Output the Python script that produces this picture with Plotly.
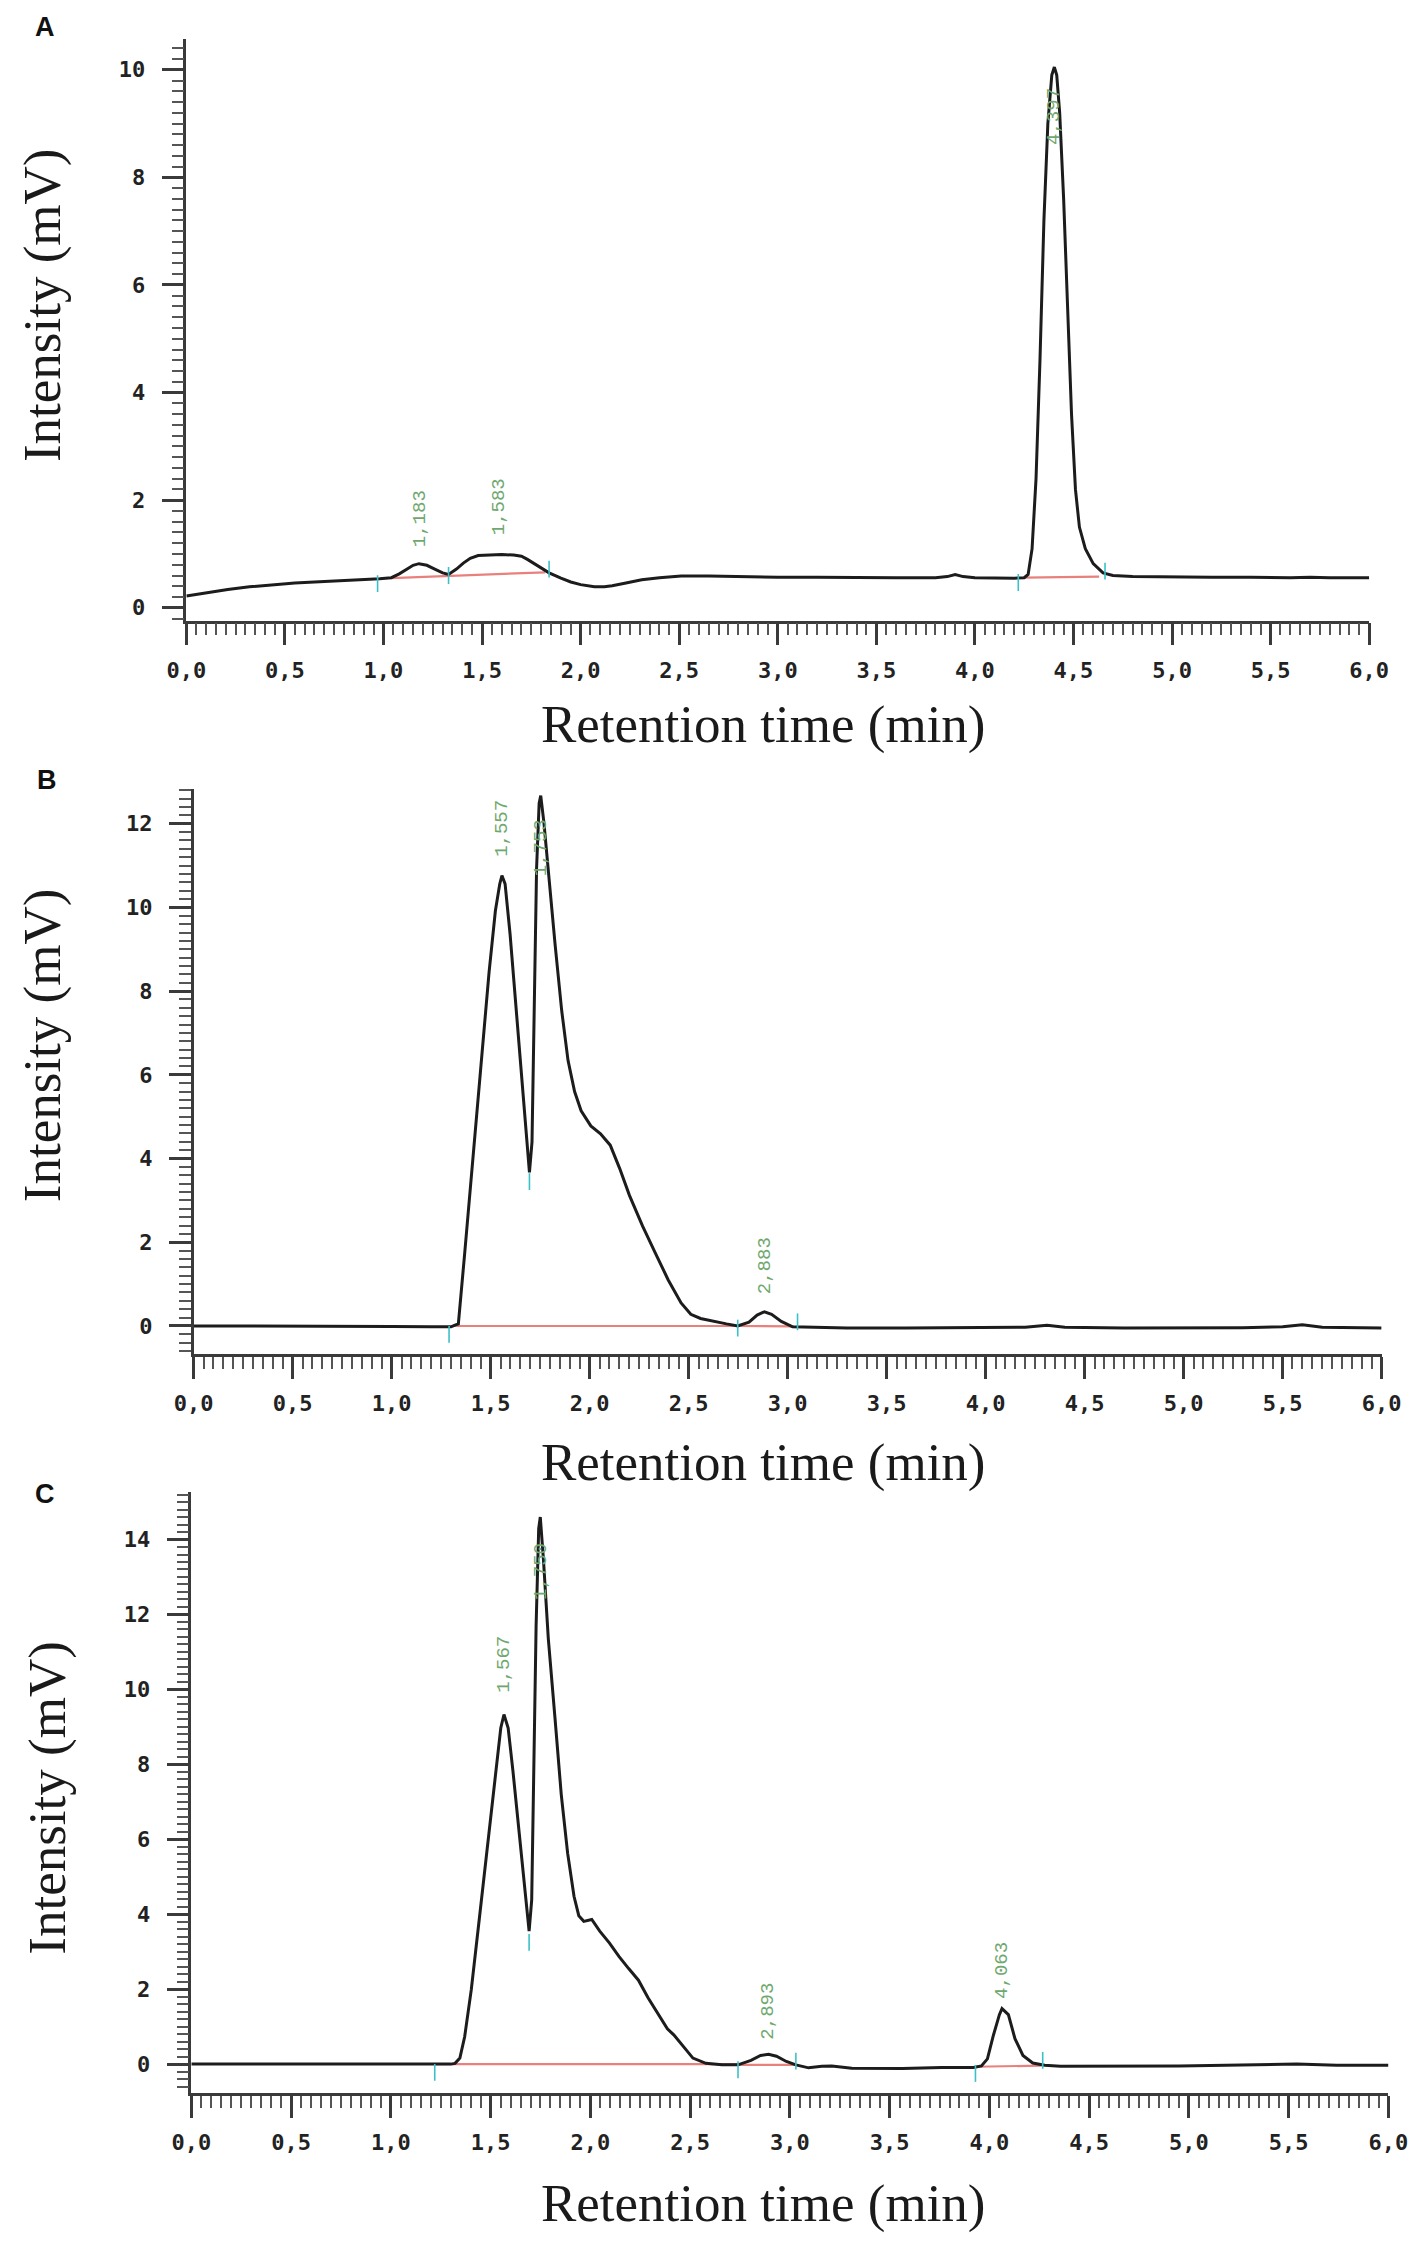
import plotly.graph_objects as go

# ---------------------------------------------------------------------------
# chromatogram traces (retention time in min, intensity in mV)
# ---------------------------------------------------------------------------

time_a = [0.00, 0.10, 0.21, 0.32, 0.43, 0.55, 0.65, 0.76, 0.87, 0.98, 1.04, 1.08,
          1.12, 1.15, 1.18, 1.22, 1.26, 1.30, 1.33, 1.37, 1.405, 1.44, 1.48, 1.54,
          1.60, 1.66, 1.70, 1.73, 1.76, 1.80, 1.84, 1.90, 1.95, 2.00, 2.07, 2.12,
          2.16, 2.23, 2.31, 2.40, 2.51, 2.65, 2.80, 3.00, 3.20, 3.40, 3.60, 3.80,
          3.86, 3.90, 3.94, 4.00, 4.10, 4.20, 4.25, 4.27, 4.29, 4.31, 4.33, 4.35,
          4.37, 4.39, 4.403, 4.415, 4.43, 4.45, 4.47, 4.49, 4.51, 4.53, 4.56, 4.60,
          4.65, 4.70, 4.80, 5.00, 5.20, 5.40, 5.60, 5.70, 5.80, 6.00]
signal_a = [0.22, 0.28, 0.34, 0.39, 0.43, 0.46, 0.48, 0.50, 0.51, 0.54, 0.56, 0.63,
            0.72, 0.79, 0.82, 0.79, 0.72, 0.65, 0.62, 0.72, 0.83, 0.92, 0.97, 0.98,
            0.99, 0.98, 0.96, 0.90, 0.83, 0.73, 0.65, 0.55, 0.48, 0.43, 0.39, 0.39,
            0.41, 0.46, 0.52, 0.56, 0.59, 0.59, 0.58, 0.57, 0.57, 0.56, 0.56, 0.56,
            0.58, 0.62, 0.58, 0.56, 0.55, 0.55, 0.56, 0.62, 1.10, 2.40, 4.60, 7.20,
            9.00, 9.90, 10.05, 9.90, 9.20, 7.60, 5.60, 3.60, 2.20, 1.50, 1.10, 0.82,
            0.65, 0.60, 0.58, 0.57, 0.57, 0.57, 0.56, 0.57, 0.56, 0.56]

time_b = [0.00, 0.50, 1.00, 1.20, 1.30, 1.32, 1.337, 1.369, 1.41, 1.451, 1.492, 1.524,
          1.546, 1.557, 1.573, 1.598, 1.630, 1.663, 1.688, 1.696, 1.709, 1.72, 1.732,
          1.745, 1.753, 1.769, 1.794, 1.826, 1.859, 1.891, 1.924, 1.957, 2.006, 2.055,
          2.104, 2.152, 2.201, 2.267, 2.332, 2.397, 2.462, 2.511, 2.56, 2.625, 2.691,
          2.748, 2.805, 2.846, 2.883, 2.919, 2.968, 3.025, 3.10, 3.30, 3.60, 3.90,
          4.20, 4.31, 4.40, 4.70, 5.00, 5.30, 5.50, 5.60, 5.70, 6.00]
signal_b = [0.00, 0.00, -0.01, -0.02, -0.02, 0.02, 0.05, 1.74, 4.04, 6.24, 8.45, 9.92,
            10.56, 10.76, 10.56, 9.37, 7.53, 5.42, 4.04, 3.67, 4.40, 7.70, 10.93,
            12.49, 12.67, 12.03, 10.65, 9.09, 7.53, 6.34, 5.60, 5.14, 4.78, 4.59,
            4.32, 3.76, 3.12, 2.39, 1.74, 1.10, 0.55, 0.28, 0.18, 0.11, 0.05,
            0.00, 0.09, 0.26, 0.34, 0.28, 0.11, -0.02, -0.03, -0.05, -0.05, -0.04,
            -0.03, 0.02, -0.03, -0.05, -0.05, -0.04, -0.02, 0.03, -0.03, -0.05]

time_c = [0.00, 0.50, 1.00, 1.20, 1.30, 1.322, 1.346, 1.37, 1.403, 1.443, 1.483, 1.523,
          1.551, 1.567, 1.588, 1.612, 1.644, 1.677, 1.693, 1.706, 1.717, 1.728, 1.741,
          1.749, 1.765, 1.789, 1.822, 1.854, 1.886, 1.918, 1.942, 1.967, 2.007, 2.047,
          2.096, 2.144, 2.192, 2.241, 2.289, 2.337, 2.386, 2.418, 2.466, 2.514, 2.579,
          2.659, 2.74, 2.805, 2.853, 2.893, 2.933, 2.982, 3.03, 3.094, 3.16, 3.21,
          3.31, 3.565, 3.76, 3.92, 3.96, 3.99, 4.02, 4.05, 4.063, 4.095, 4.128, 4.168,
          4.217, 4.277, 4.356, 4.553, 4.95, 5.34, 5.54, 5.74, 6.00]
signal_c = [0.00, 0.00, -0.01, -0.01, 0.00, 0.02, 0.16, 0.73, 1.98, 3.86, 5.74, 7.61,
            8.97, 9.33, 8.97, 7.82, 6.15, 4.38, 3.55, 4.38, 8.03, 11.68, 14.29,
            14.60, 13.45, 11.37, 9.28, 7.20, 5.63, 4.48, 3.96, 3.81, 3.86, 3.55,
            3.23, 2.87, 2.55, 2.24, 1.77, 1.36, 0.94, 0.78, 0.47, 0.16, 0.02,
            -0.02, -0.02, 0.10, 0.23, 0.26, 0.21, 0.07, -0.02, -0.10, -0.06, -0.05,
            -0.11, -0.12, -0.09, -0.09, -0.05, 0.14, 0.77, 1.32, 1.48, 1.32, 0.68, 0.23,
            0.03, -0.03, -0.06, -0.06, -0.05, -0.02, 0.00, -0.03, -0.03]

# integration baselines (start/end pairs)
base_a_t = [[1.04, 1.82], [4.25, 4.63]]
base_a_y = [[0.55, 0.66], [0.56, 0.58]]
base_b_t = [[1.30, 2.75], [2.75, 3.03]]
base_b_y = [[0.00, 0.00], [0.00, -0.01]]
base_c_t = [[1.22, 2.74], [2.74, 3.03], [3.93, 4.26]]
base_c_y = [[0.00, 0.00], [-0.02, -0.02], [-0.07, -0.04]]

# peak boundary markers
bound_a_t = [0.97, 1.33, 1.84, 4.22, 4.66]
bound_a_y = [0.45, 0.60, 0.72, 0.47, 0.68]
bound_b_t = [1.29, 1.696, 2.748, 3.05]
bound_b_y = [-0.20, 3.45, -0.05, 0.10]
bound_c_t = [1.22, 1.693, 2.74, 3.03, 3.93, 4.267]
bound_c_y = [-0.22, 3.25, -0.15, 0.08, -0.25, 0.10]

# peak labels
peak_a = ["1,183", "1,583", "4,397"]
peak_a_t = [1.183, 1.583, 4.40]
peak_a_y = [1.09, 1.31, 8.57]
peak_b = ["1,557", "1,753", "2,883"]
peak_b_t = [1.557, 1.753, 2.883]
peak_b_y = [11.17, 10.70, 0.71]
peak_c = ["1,567", "1,750", "2,893", "4,063"]
peak_c_t = [1.567, 1.750, 2.893, 4.063]
peak_c_y = [9.87, 12.33, 0.60, 1.70]

panels = [
    dict(letter="A", t=time_a, s=signal_a, bt=base_a_t, by=base_a_y,
         mt=bound_a_t, my=bound_a_y, lab=peak_a, lt=peak_a_t, ly=peak_a_y,
         yrange=[-0.24, 10.58], yticks=[0, 2, 4, 6, 8, 10],
         xdom=[0.1150, 0.9740], ydom=[0.7272, 0.9864],
         letter_xy=(0.0127, 0.9915), ytitle_xy=(0.0110, 0.8678), xtitle_xy=(0.534, 0.681)),
    dict(letter="B", t=time_b, s=signal_b, bt=base_b_t, by=base_b_y,
         mt=bound_b_t, my=bound_b_y, lab=peak_b, lt=peak_b_t, ly=peak_b_y,
         yrange=[-0.67, 12.83], yticks=[0, 2, 4, 6, 8, 10, 12],
         xdom=[0.1203, 0.9830], ydom=[0.4007, 0.6523],
         letter_xy=(0.0141, 0.6563), ytitle_xy=(0.0110, 0.5383), xtitle_xy=(0.534, 0.3522)),
    dict(letter="C", t=time_c, s=signal_c, bt=base_c_t, by=base_c_y,
         mt=bound_c_t, my=bound_c_y, lab=peak_c, lt=peak_c_t, ly=peak_c_y,
         yrange=[-0.77, 15.27], yticks=[0, 2, 4, 6, 8, 10, 12, 14],
         xdom=[0.1186, 0.9880], ydom=[0.0717, 0.3393],
         letter_xy=(0.0127, 0.3384), ytitle_xy=(0.0135, 0.2030), xtitle_xy=(0.534, 0.0227)),
]

AXIS_COLOR = "#3a3a3a"
TICK_FONT = dict(family="DejaVu Sans Mono", size=22, color="#222222", weight="bold")
TITLE_FONT = dict(family="Liberation Serif", size=53, color="#1a1a1a")

fig = go.Figure()
annotations = []
layout = {}

for i, p in enumerate(panels, start=1):
    xa = "x" if i == 1 else f"x{i}"
    ya = "y" if i == 1 else f"y{i}"

    # red integration baselines
    for bt, by in zip(p["bt"], p["by"]):
        fig.add_trace(go.Scatter(x=bt, y=by, xaxis=xa, yaxis=ya, mode="lines",
                                 line=dict(color="#e8807c", width=2.2),
                                 hoverinfo="skip", showlegend=False))

    # signal
    fig.add_trace(go.Scatter(x=p["t"], y=p["s"], xaxis=xa, yaxis=ya, mode="lines",
                             line=dict(color="#1c1c1c", width=3),
                             showlegend=False))

    # peak start/end marks
    fig.add_trace(go.Scatter(x=p["mt"], y=p["my"], xaxis=xa, yaxis=ya, mode="markers",
                             marker=dict(symbol="line-ns", size=12,
                                         line=dict(color="#3cc0c8", width=1.6)),
                             hoverinfo="skip", showlegend=False))

    # peak retention-time labels
    for txt, lt, ly in zip(p["lab"], p["lt"], p["ly"]):
        annotations.append(dict(x=lt, y=ly, xref=xa, yref=ya, text=txt,
                                textangle=-90, showarrow=False,
                                xanchor="center", yanchor="bottom",
                                font=dict(family="Liberation Mono", size=19,
                                          color="#6fa86f")))

    layout[f"xaxis{'' if i == 1 else i}"] = dict(
        domain=p["xdom"], anchor=ya, range=[0, 6.0],
        tickvals=[0, 0.5, 1, 1.5, 2, 2.5, 3, 3.5, 4, 4.5, 5, 5.5, 6],
        tickformat=".1f", ticks="outside", ticklen=22, tickwidth=2.5,
        tickcolor=AXIS_COLOR, ticklabelstandoff=6,
        minor=dict(dtick=0.05, tick0=0, ticks="outside", ticklen=12,
                   tickwidth=2, tickcolor="#555555"),
        showline=True, linecolor=AXIS_COLOR, linewidth=2.5,
        showgrid=False, zeroline=False, tickfont=TICK_FONT, fixedrange=True,
    )
    layout[f"yaxis{'' if i == 1 else i}"] = dict(
        domain=p["ydom"], anchor=xa, range=p["yrange"],
        tickvals=p["yticks"], ticks="outside", ticklen=22, tickwidth=2.5,
        tickcolor=AXIS_COLOR, ticklabelstandoff=12,
        minor=dict(dtick=0.2, tick0=0, ticks="outside", ticklen=12,
                   tickwidth=2, tickcolor="#555555"),
        showline=True, linecolor=AXIS_COLOR, linewidth=2.5,
        showgrid=False, zeroline=False, tickfont=TICK_FONT, fixedrange=True,
    )

    lx, ly = p["letter_xy"]
    annotations.append(dict(x=lx, y=ly, xref="paper", yref="paper", text=p["letter"],
                            showarrow=False, xanchor="center", yanchor="middle",
                            font=dict(family="Liberation Sans", size=27,
                                      color="#111111", weight="bold")))
    tx, ty = p["ytitle_xy"]
    annotations.append(dict(x=tx, y=ty, xref="paper", yref="paper",
                            text="Intensity (mV)", textangle=-90, showarrow=False,
                            xanchor="center", yanchor="middle", font=TITLE_FONT))
    tx, ty = p["xtitle_xy"]
    annotations.append(dict(x=tx, y=ty, xref="paper", yref="paper",
                            text="Retention time (min)", showarrow=False,
                            xanchor="center", yanchor="middle", font=TITLE_FONT))

fig.update_layout(
    width=1417, height=2246,
    margin=dict(l=0, r=0, t=0, b=0),
    paper_bgcolor="white", plot_bgcolor="white",
    separators=",.",
    annotations=annotations,
    **layout,
)

fig.write_html("out.html")
